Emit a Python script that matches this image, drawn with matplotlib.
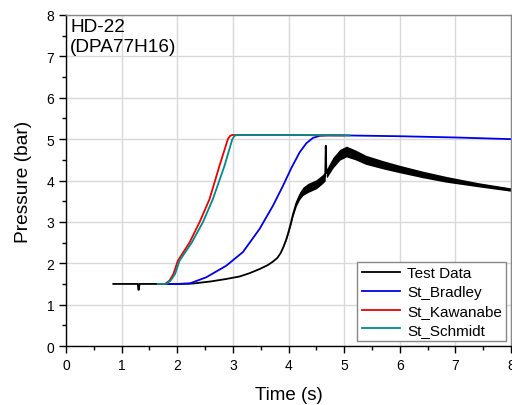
import numpy as np
import matplotlib.pyplot as plt

# Test data (centre line of the measured trace)
t_test = [0.85, 1.0, 1.29, 1.30, 1.31, 1.32, 1.6, 2.0, 2.28, 2.6, 2.88, 3.12, 3.3, 3.48, 3.62, 3.72, 3.80, 3.86, 3.91, 3.96,
          4.00, 4.04, 4.08, 4.14, 4.20, 4.26, 4.35, 4.50, 4.60, 4.66, 4.67, 4.68, 4.69, 4.72, 4.80, 4.92, 5.04,
          5.2, 5.39, 5.7, 5.99, 6.4, 6.83, 7.4, 8.0]
p_test = [1.50, 1.50, 1.50, 1.36, 1.36, 1.50, 1.50, 1.50, 1.51, 1.56, 1.62, 1.68, 1.76, 1.86, 1.95, 2.04, 2.13, 2.25, 2.40, 2.58,
          2.76, 2.96, 3.18, 3.45, 3.63, 3.74, 3.82, 3.91, 4.02, 4.10, 4.84, 4.20, 4.18, 4.25, 4.43, 4.62, 4.70,
          4.62, 4.50, 4.38, 4.28, 4.15, 4.03, 3.90, 3.78]
# half width of the noise band around the test trace
band = [0.0, 0.0, 0.0, 0.0, 0.0, 0.0, 0.0, 0.0, 0.0, 0.0, 0.0, 0.0, 0.0, 0.0, 0.0, 0.0, 0.0, 0.0, 0.01, 0.02,
        0.03, 0.04, 0.05, 0.07, 0.09, 0.10, 0.11, 0.11, 0.11, 0.11, 0.0, 0.11, 0.11, 0.12, 0.13, 0.13, 0.13,
        0.12, 0.11, 0.10, 0.09, 0.08, 0.07, 0.05, 0.04]

t_brad = [1.65, 2.0, 2.22, 2.52, 2.88, 3.18, 3.48, 3.72, 3.90, 4.05, 4.20, 4.32, 4.44, 4.56, 4.7, 5.0, 6.0, 7.0, 8.0]
p_brad = [1.50, 1.50, 1.51, 1.66, 1.94, 2.27, 2.83, 3.39, 3.87, 4.30, 4.68, 4.90, 5.03, 5.08, 5.09, 5.09, 5.07, 5.04, 5.00]

t_kawa = [1.65, 1.78, 1.86, 1.93, 2.01, 2.22, 2.40, 2.58, 2.76, 2.91, 2.95, 2.99, 4.0, 5.0]
p_kawa = [1.50, 1.50, 1.58, 1.74, 2.06, 2.50, 2.99, 3.55, 4.36, 5.00, 5.08, 5.10, 5.10, 5.09]

t_schm = [1.65, 1.80, 1.88, 1.96, 2.04, 2.26, 2.46, 2.64, 2.85, 2.99, 3.03, 3.07, 4.0, 5.1]
p_schm = [1.50, 1.50, 1.58, 1.74, 2.06, 2.50, 2.99, 3.55, 4.36, 5.00, 5.08, 5.10, 5.10, 5.09]

plt.rcParams['font.family'] = ['Liberation Sans', 'DejaVu Sans']

fig = plt.figure(figsize=(5.12, 4.06), dpi=100)
ax = fig.add_axes([0.129, 0.1453, 0.869, 0.8153])

lo = np.array(p_test) - np.array(band)
hi = np.array(p_test) + np.array(band)
ax.fill_between(t_test, lo, hi, color='black', linewidth=0)
ax.plot(t_test, p_test, color='black', lw=1.3, label='Test Data')
ax.plot(t_brad, p_brad, color='#0000ee', lw=1.3, label='St_Bradley')
ax.plot(t_kawa, p_kawa, color='#ee0000', lw=1.3, label='St_Kawanabe')
ax.plot(t_schm, p_schm, color='#008b8b', lw=1.3, label='St_Schmidt')

ax.set_xlim(0, 8)
ax.set_ylim(0, 8)
ax.set_xticks(range(0, 9))
ax.set_yticks(range(0, 9))
ax.set_xticks(np.arange(0.5, 8, 1), minor=True)
ax.set_yticks(np.arange(0.5, 8, 1), minor=True)
ax.tick_params(which='major', direction='out', length=5, width=1, labelsize=10)
ax.tick_params(which='minor', direction='out', length=3, width=1)
ax.grid(True, which='major', color='#d9d9d9', lw=1)
ax.set_axisbelow(True)
for s in ax.spines.values():
    s.set_linewidth(1)
ax.spines['top'].set_color('#888888')
ax.spines['right'].set_color('#888888')

ax.set_xlabel('Time (s)', fontsize=13.5, labelpad=10)
ax.set_ylabel('Pressure (bar)', fontsize=13.8, labelpad=10)
ax.text(0.009, 0.99, 'HD-22\n(DPA77H16)', transform=ax.transAxes, fontsize=13.7,
        va='top', ha='left', linespacing=1.2)

leg = ax.legend(loc='lower right', fontsize=11, frameon=True, fancybox=False,
                edgecolor='#888888', framealpha=1, handlelength=2.5, borderaxespad=0.3,
                labelspacing=0.32, handletextpad=0.45, borderpad=0.3)
leg.get_frame().set_linewidth(1)

fig.savefig('out.png', dpi=100)
